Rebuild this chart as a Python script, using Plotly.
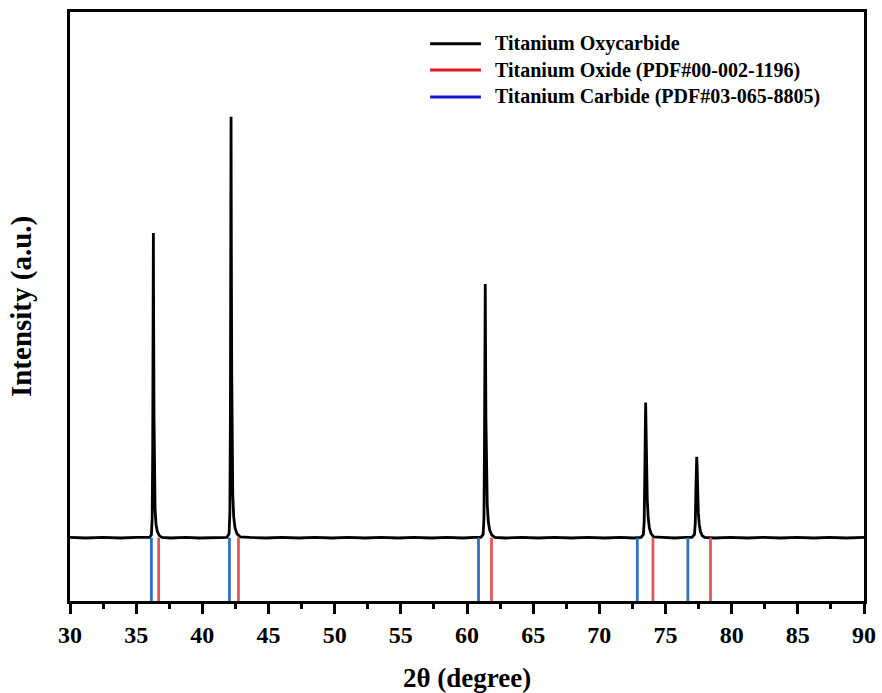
import plotly.graph_objects as go

# Measured XRD pattern of the titanium oxycarbide sample (2θ in degrees, intensity in a.u.)
two_theta = [
    30.0, 31.2, 32.5, 33.8, 35.0, 35.8,
    36.00, 36.15, 36.21, 36.25, 36.28, 36.30, 36.32, 36.35, 36.38, 36.43, 36.50, 36.60, 36.75, 36.95,
    37.6, 38.7, 39.8, 40.9,
    41.85, 42.02, 42.08, 42.12, 42.15, 42.17, 42.19, 42.22, 42.25, 42.30, 42.37, 42.47, 42.62, 42.85,
    43.6, 44.8, 46.0, 47.3, 48.5, 49.8, 51.0, 52.3, 53.5, 54.8, 56.0, 57.3, 58.5, 59.7, 60.5,
    61.05, 61.22, 61.28, 61.32, 61.35, 61.38, 61.40, 61.43, 61.47, 61.53, 61.61, 61.72, 61.88, 62.10,
    62.9, 64.1, 65.4, 66.6, 67.9, 69.1, 70.4, 71.6, 72.6,
    73.15, 73.33, 73.39, 73.44, 73.47, 73.50, 73.53, 73.57, 73.62, 73.69, 73.78, 73.90, 74.10,
    74.8, 75.7, 76.5,
    77.00, 77.19, 77.25, 77.30, 77.33, 77.36, 77.39, 77.43, 77.48, 77.55, 77.64, 77.77, 77.95,
    78.7, 79.9, 81.2, 82.4, 83.7, 84.9, 86.2, 87.4, 88.7, 90.0,
]
intensity = [
    108, 107, 108, 107, 108, 107,
    108, 112, 140, 260, 480, 625, 480, 310, 210, 155, 130, 118, 111, 108,
    107, 108, 107, 108,
    108, 114, 150, 310, 600, 822, 620, 390, 260, 180, 143, 124, 114, 109,
    108, 107, 108, 107, 108, 107, 108, 107, 108, 107, 108, 107, 108, 107, 108,
    108, 113, 140, 260, 420, 538, 440, 310, 215, 163, 135, 120, 112, 108,
    107, 108, 107, 108, 107, 108, 107, 108, 107,
    108, 113, 135, 225, 300, 337, 295, 225, 173, 142, 124, 115, 109,
    108, 107, 108,
    108, 113, 132, 192, 228, 245, 228, 183, 150, 130, 118, 111, 108,
    107, 108, 107, 108, 107, 108, 107, 108, 107, 108,
]

# Reference stick positions (2θ) from the powder diffraction files
tio_ref = [36.70, 42.73, 61.85, 74.05, 78.40]   # Titanium Oxide, PDF#00-002-1196
tic_ref = [36.15, 42.05, 60.87, 72.87, 76.69]   # Titanium Carbide, PDF#03-065-8805
stick_top = 107.5                               # sticks reach up to the pattern baseline

x_ticks = [30, 35, 40, 45, 50, 55, 60, 65, 70, 75, 80, 85, 90]

series_names = [
    "Titanium Oxycarbide",
    "Titanium Oxide (PDF#00-002-1196)",
    "Titanium Carbide (PDF#03-065-8805)",
]
legend_colors = ["#000000", "#E8141C", "#1414C8"]

FONT = "Liberation Serif"


def stick_path(positions, top):
    xs, ys = [], []
    for p in positions:
        xs += [p, p, None]
        ys += [0, top, None]
    return xs, ys


fig = go.Figure()

fig.add_trace(go.Scatter(
    x=two_theta, y=intensity, mode="lines",
    line=dict(color="black", width=2.8),
    name=series_names[0], showlegend=False,
))

tic_x, tic_y = stick_path(tic_ref, stick_top)
tio_x, tio_y = stick_path(tio_ref, stick_top)
fig.add_trace(go.Scatter(x=tic_x, y=tic_y, mode="lines",
                         line=dict(color="#2F6FC4", width=2.8),
                         name=series_names[2], showlegend=False, hoverinfo="skip"))
fig.add_trace(go.Scatter(x=tio_x, y=tio_y, mode="lines",
                         line=dict(color="#E0585C", width=2.8),
                         name=series_names[1], showlegend=False, hoverinfo="skip"))

# Legend block: long swatch lines with bold labels, top right inside the frame
shapes = []
annotations = []
leg_x0, leg_x1, leg_text_x = 0.4536, 0.5175, 0.5326
leg_rows = [0.946, 0.9015, 0.8557]
for name, color, yy in zip(series_names, legend_colors, leg_rows):
    shapes.append(dict(type="line", xref="paper", yref="paper",
                       x0=leg_x0, x1=leg_x1, y0=yy, y1=yy,
                       line=dict(color=color, width=3)))
    annotations.append(dict(text=name, xref="paper", yref="paper",
                            x=leg_text_x, y=yy, xanchor="left", yanchor="middle",
                            showarrow=False,
                            font=dict(family=FONT, size=20, color="black", weight="bold")))

annotations += [
    dict(text="2θ (degree)", xref="paper", yref="paper",
         x=0.5, y=-0.1307, xanchor="center", yanchor="middle",
         showarrow=False,
         font=dict(family=FONT, size=27, color="black", weight="bold")),
    dict(text="Intensity (a.u.)", xref="paper", yref="paper",
         x=-0.061, y=0.5, xanchor="center", yanchor="middle",
         textangle=-90, showarrow=False,
         font=dict(family=FONT, size=29, color="black", weight="bold")),
]

fig.update_layout(
    width=882, height=693,
    margin=dict(l=70, r=6, t=12, b=92),
    paper_bgcolor="white", plot_bgcolor="white",
    font=dict(family=FONT, color="black"),
    showlegend=False,
    xaxis=dict(
        range=[30, 90], tickvals=x_ticks, ticktext=[str(t) for t in x_ticks],
        showline=True, linecolor="black", linewidth=2.5, mirror=True,
        ticks="outside", ticklen=10, tickwidth=2.5, tickcolor="black",
        minor=dict(dtick=2.5, tick0=30, ticks="outside", ticklen=5,
                   tickwidth=2.5, tickcolor="black"),
        tickfont=dict(family=FONT, size=24, color="black", weight="bold"),
        ticklabeloverflow="allow",
        showgrid=False, zeroline=False,
    ),
    yaxis=dict(
        range=[0, 1000],
        showline=True, linecolor="black", linewidth=2.5, mirror=True,
        showticklabels=False, ticks="", showgrid=False, zeroline=False,
    ),
    shapes=shapes,
    annotations=annotations,
)

fig.write_html("out.html")
